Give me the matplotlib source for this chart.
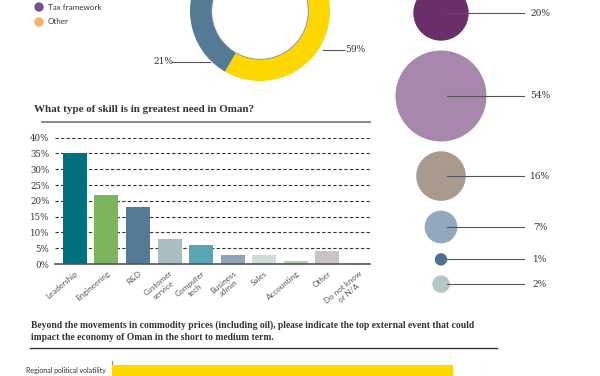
import numpy as np
import matplotlib.pyplot as plt
from matplotlib.patches import Circle

legend_labels = ['Tax framework', 'Other']
legend_colors = ['#7b4d8c', '#f6b26b']

donut_values = [59, 20, 21]
donut_colors = ['#fdd800', '#7b4d8c', '#557a95']

bubble_values = [20, 54, 16, 7, 1, 2]
bubble_colors = ['#6a2e6a', '#a887ad', '#a89a8e', '#93a8bd', '#4f7093', '#b4c9c5']

skills = ['Leadership', 'Engineering', 'R&D', 'Customer\nservice', 'Computer\ntech',
          'Business\nadmin', 'Sales', 'Accounting', 'Other', 'Do not know\nor N/A']
skill_values = [35, 22, 18, 8, 6, 3, 3, 1, 4, 0]
skill_colors = ['#00707f', '#7bb55e', '#557a95', '#a9bfbf', '#5ba4b6',
                '#8fa4b8', '#cfdcdc', '#b6d29b', '#cbc3c1', '#cbc3c1']

event_labels = ['Regional political volatility']
event_values = [46]

SERIF = 'DejaVu Serif'
HEAD = 'Liberation Serif'
SANS = 'Lato'
TXT = '#333333'

fig = plt.figure(figsize=(6, 3.76), dpi=100)

# overlay in pixel coordinates for text and lines
ov = fig.add_axes([0, 0, 1, 1])
ov.set_xlim(0, 600)
ov.set_ylim(376, 0)
ov.axis('off')

# legend (top left)
for i, (lab, col) in enumerate(zip(legend_labels, legend_colors)):
    y = 7 + i * 15
    ov.add_patch(Circle((39, y), 4, color=col))
    ov.text(48, y, lab, fontsize=5.8, family=SANS, color=TXT, va='center')

# donut
dax = fig.add_axes([(260 - 70) / 600, 1 - (11 + 70) / 376, 140 / 600, 140 / 376])
dax.pie(donut_values, colors=donut_colors, startangle=240, radius=1,
        wedgeprops=dict(width=0.31, edgecolor='none'))
dax.add_patch(Circle((0, 0), 0.69, fill=False, ec='#8e86a0', lw=0.6))
dax.set_xlim(-1, 1)
dax.set_ylim(-1, 1)
dax.axis('off')

ov.plot([172, 210], [62, 62], color='#555555', lw=0.8)
ov.text(163, 62, '21%', fontsize=6.5, family=SERIF, color=TXT, ha='center', va='center')
ov.plot([323, 344], [50, 50], color='#555555', lw=0.8)
ov.text(355, 50, '59%', fontsize=6.5, family=SERIF, color=TXT, ha='center', va='center')

# bubbles, area proportional to value
radii = 45.5 * np.sqrt(np.array(bubble_values) / 54)
ys = [13.0]
for i in range(1, len(radii)):
    ys.append(ys[-1] + radii[i - 1] + radii[i] + 9.8)
for v, r, y, c in zip(bubble_values, radii, ys, bubble_colors):
    ov.add_patch(Circle((441, y), r, color=c, lw=0))
    ov.plot([447, 524], [y, y], color='#555555', lw=0.8)
    ov.text(540, y, f'{v}%', fontsize=6.5, family=SERIF, color=TXT, ha='center', va='center')

# skill bar chart
ov.text(34, 110, 'What type of skill is in greatest need in Oman?', fontsize=7.9,
        family=HEAD, fontweight='bold', color=TXT, va='center')
ov.plot([42, 370], [122, 122], color='#8a8a8a', lw=1.4)

bax = fig.add_axes([55 / 600, 1 - 264 / 376, 315 / 600, (264 - 137.7) / 376])
x = np.arange(len(skills))
bax.bar(x, skill_values, width=0.76, color=skill_colors, zorder=3)
bax.set_xlim(-0.63, 9.35)
bax.set_ylim(0, 40)
bax.set_yticks(np.arange(0, 41, 5))
bax.set_yticklabels([f'{v}%' for v in range(0, 41, 5)], family=SERIF, fontsize=6.2, color=TXT)
bax.yaxis.grid(True, color='#333333', lw=0.8, ls=(0, (3, 2)), zorder=1)
bax.set_axisbelow(True)
bax.set_xticks(x)
bax.set_xticklabels(skills, rotation=40, ha='right', rotation_mode='anchor',
                    family=SANS, fontsize=5.8, color='#555555', multialignment='center')
for s in ['top', 'right', 'left']:
    bax.spines[s].set_visible(False)
bax.spines['bottom'].set_color('#555555')
bax.spines['bottom'].set_linewidth(1.2)
bax.spines['bottom'].set_zorder(4)
bax.tick_params(length=0, pad=4)
bax.patch.set_alpha(0)

# bottom question
ov.text(31, 325, 'Beyond the movements in commodity prices (including oil), please indicate the top external event that could',
        fontsize=6.9, family=HEAD, fontweight='bold', color=TXT, va='center')
ov.text(31, 337, 'impact the economy of Oman in the short to medium term.',
        fontsize=6.9, family=HEAD, fontweight='bold', color=TXT, va='center')
ov.plot([30, 497], [348, 348], color='#333333', lw=1)

eax = fig.add_axes([112 / 600, 1 - 392 / 376, (483 - 112) / 600, 31 / 376])
eax.barh([0], event_values, height=0.75, color='#fdd800', zorder=3)
eax.set_xlim(0, 50)
eax.set_ylim(-0.5, 0.5)
eax.axvline(50, color='#888888', lw=0.8, ls=(0, (2, 2)))
eax.set_xticks([])
eax.set_yticks([])
for s in ['top', 'right', 'bottom']:
    eax.spines[s].set_visible(False)
eax.spines['left'].set_color('#888888')
eax.spines['left'].set_linewidth(0.8)
eax.patch.set_alpha(0)
ov.text(106, 371, event_labels[0], family=SANS, fontsize=5, color=TXT,
        ha='right', va='center')

fig.savefig('out.png', dpi=100, facecolor='white')
